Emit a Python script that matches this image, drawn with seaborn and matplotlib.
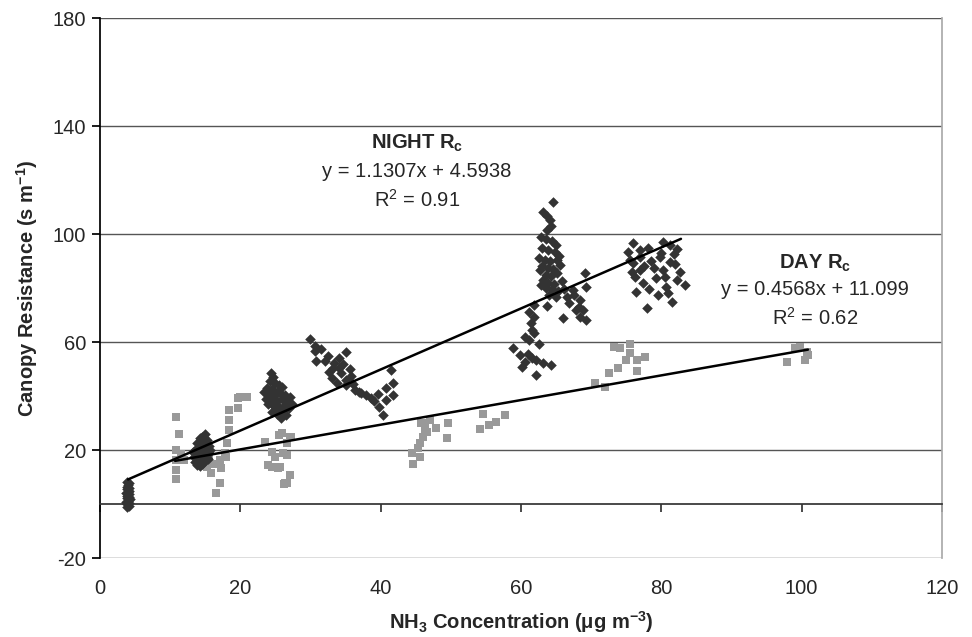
import numpy as np
import pandas as pd
import seaborn as sns
import matplotlib
matplotlib.use("Agg")
import matplotlib.pyplot as plt

# night canopy resistance (dark diamonds)
night_x = [3.8, 4.1, 3.9, 4.2, 3.7, 4.0, 4.3, 3.8, 4.1, 3.9, 4.2, 3.7, 4.0, 4.2, 3.8, 4.1, 3.9, 4.0, 4.2, 3.9,
           13.5, 13.8, 14.2, 14.6, 15.0, 15.4, 13.4, 13.9, 14.4, 14.9, 15.5, 13.6, 14.1, 14.6, 15.1, 15.6, 13.8,
           14.3, 14.8, 15.3, 14.5, 14.9, 14.2, 13.3, 15.7, 14.0, 14.7, 15.2,
           24.4, 24.6, 24.2, 25.0, 25.5, 23.8, 24.5, 25.3, 26.0, 23.4, 24.1, 24.8, 25.6, 26.4, 27.1, 23.6, 24.4,
           25.2, 26.0, 26.8, 23.9, 24.7, 25.5, 26.3, 24.9, 25.8, 26.1, 26.9, 25.2, 26.5, 24.5, 27.3, 25.8,
           29.9, 30.6, 30.6, 31.5, 32.5, 30.8, 32.0, 33.4, 34.0, 35.1, 32.7, 33.0, 34.4, 35.1, 35.6, 35.1, 34.0,
           33.8, 36.3, 36.9, 37.9, 38.6, 39.1, 39.8, 40.3, 39.6, 40.7, 41.8, 41.8, 40.7, 41.5, 35.8, 34.6, 33.2,
           36.0, 37.2,
           64.5, 63.2, 63.7, 64.1, 63.7, 64.3, 62.8, 63.5, 64.4, 65.0, 63.0, 63.9, 64.8, 65.4, 62.6, 63.4, 64.2,
           65.2, 63.0, 63.8, 64.6, 65.5, 62.7, 63.5, 64.3, 65.1, 63.1, 63.9, 64.7, 65.8, 63.6, 64.4, 65.3, 62.9,
           64.0, 65.0, 69.1, 69.3, 67.4, 66.5, 68.4, 68.2, 68.9, 68.4, 69.3, 66.0, 67.5, 66.8, 67.8, 66.2, 63.7,
           61.9, 61.2, 61.9, 61.4, 61.6, 61.9, 60.6, 61.2, 62.6, 58.9, 59.8, 61.0, 61.5, 60.5, 62.2, 63.1, 60.1,
           64.3, 62.2,
           76.0, 75.3, 76.9, 78.1, 80.2, 81.2, 82.2, 76.0, 76.9, 76.2, 77.4, 76.4, 77.9, 79.3, 80.3, 81.2, 80.7,
           82.2, 83.4, 81.5, 79.8, 82.0, 75.6, 77.5, 78.5, 79.0, 80.0, 81.8, 82.6, 78.2, 79.5, 80.5, 77.0, 75.8,
           81.0]
night_y = [-1.2, -0.8, 0.0, 0.4, 0.9, 1.3, 1.8, 2.2, 2.7, 3.1, 3.6, 4.0, 4.5, 5.0, 5.4, 5.9, 6.4, 7.0, 7.6, 8.1,
           15.5, 14.5, 14.0, 15.0, 15.8, 16.5, 17.5, 18.0, 17.0, 18.5, 18.8, 20.0, 20.5, 19.5, 21.0, 21.5, 22.5,
           23.0, 22.0, 23.8, 25.0, 26.0, 24.5, 19.2, 20.0, 16.2, 21.0, 17.2,
           48.4, 47.0, 45.5, 45.0, 44.0, 43.0, 42.5, 42.0, 43.5, 41.6, 40.5, 40.0, 41.0, 40.5, 39.7, 39.0, 38.5,
           38.0, 38.8, 38.0, 37.0, 36.5, 36.0, 36.8, 35.9, 34.5, 34.8, 35.5, 33.5, 33.0, 34.0, 37.0, 32.0,
           61.0, 58.5, 56.8, 57.5, 55.0, 53.1, 53.0, 52.2, 54.0, 56.4, 49.0, 46.6, 48.4, 46.0, 50.0, 44.0, 50.5,
           45.0, 42.2, 41.6, 40.4, 39.1, 38.0, 36.0, 33.0, 40.9, 43.0, 44.7, 40.4, 38.4, 49.6, 47.5, 52.0, 50.5,
           44.5, 41.0,
           111.9, 108.3, 106.5, 105.2, 101.5, 103.0, 99.0, 98.0, 97.5, 96.0, 95.0, 94.0, 93.5, 92.0, 91.0, 90.5,
           90.0, 90.4, 88.0, 87.5, 87.0, 88.5, 86.7, 85.0, 84.5, 85.5, 83.0, 82.0, 81.5, 82.5, 80.0, 79.5, 79.0,
           81.0, 77.5, 76.5, 85.4, 80.5, 79.3, 76.8, 75.5, 73.0, 71.9, 69.4, 68.1, 68.8, 77.5, 74.5, 72.0, 79.5,
           73.3, 73.7, 71.3, 69.4, 67.0, 64.4, 63.2, 62.0, 60.7, 59.3, 57.7, 55.2, 55.6, 54.0, 52.7, 53.3, 52.3,
           50.9, 51.6, 47.8,
           96.8, 93.5, 94.1, 94.8, 97.2, 95.9, 94.6, 89.1, 86.7, 84.2, 81.8, 78.6, 72.5, 83.6, 86.7, 89.8, 80.5,
           83.0, 81.1, 74.9, 91.6, 89.0, 90.5, 88.0, 90.0, 87.5, 93.0, 92.5, 86.0, 79.5, 77.5, 84.0, 91.5, 86.0,
           78.0]

# day canopy resistance (grey squares)
day_x = [10.9, 11.3, 10.8, 10.8, 10.8, 10.9, 11.9, 11.5,
         15.2, 15.6, 15.8, 17.1, 17.3, 17.1, 16.5, 17.8, 18.1, 18.4, 18.4, 18.4, 19.7, 19.7, 20.9, 20.0, 16.2, 18.0,
         23.5, 24.5, 24.9, 24.5, 25.6, 25.9, 27.1, 26.7, 26.7, 27.1, 26.7, 26.2, 26.8, 24.0, 25.4, 25.5, 27.2,
         26.1, 26.4,
         44.4, 45.3, 44.6, 45.6, 45.6, 46.1, 46.3, 46.3, 45.8, 46.6, 47.9, 49.6, 49.4, 47.0,
         54.1, 55.4, 56.5, 57.7, 54.6,
         70.5, 72.0, 72.6, 73.8, 75.0, 73.2, 74.1, 75.5, 75.5, 76.5, 77.7, 76.6,
         99.0, 100.7, 97.9, 100.5, 100.9, 99.7]
day_y = [32.1, 25.9, 20.0, 16.3, 12.6, 9.2, 16.3, 18.5,
         13.8, 16.3, 11.4, 16.3, 13.3, 7.8, 4.2, 18.8, 22.5, 27.4, 31.1, 34.8, 35.4, 39.3, 39.7, 39.7, 15.0, 17.5,
         23.1, 19.4, 17.5, 13.8, 13.8, 26.2, 24.9, 22.5, 18.1, 10.7, 7.7, 7.5, 36.0, 14.4, 13.3, 25.6, 25.0,
         18.8, 7.7,
         19.0, 20.6, 14.8, 17.3, 22.5, 24.9, 27.4, 30.0, 29.9, 26.8, 28.1, 30.0, 24.4, 31.0,
         27.8, 29.3, 30.5, 33.0, 33.3,
         44.7, 43.3, 48.4, 50.3, 53.3, 58.3, 57.6, 59.3, 55.9, 53.3, 54.6, 49.3,
         57.8, 56.4, 52.7, 53.3, 55.2, 58.0]

# fitted lines as printed on the chart: slope, intercept, x range
night_fit = (1.1307, 4.5938, [4.0, 82.8])
day_fit = (0.4568, 11.099, [10.7, 100.9])

x_ticks = [0, 20, 40, 60, 80, 100, 120]
y_ticks = [-20, 20, 60, 100, 140, 180]

night = pd.DataFrame({"nh3": night_x, "rc": night_y})
day = pd.DataFrame({"nh3": day_x, "rc": day_y})

sns.set_theme(style="white")
plt.rcParams["font.family"] = ["Liberation Sans", "DejaVu Sans"]
plt.rcParams["axes.unicode_minus"] = False
FS = 14.5

fig = plt.figure(figsize=(9.72, 6.37), dpi=100)
ax = fig.add_axes([0.1029, 0.124, 0.8662, 0.8477])

sns.scatterplot(data=day, x="nh3", y="rc", marker="s", s=30, color="#999999", linewidth=0, ax=ax, zorder=3)
sns.scatterplot(data=night, x="nh3", y="rc", marker="D", s=29, color="#333333", linewidth=0, ax=ax, zorder=4)

for slope, icpt, xr in (night_fit, day_fit):
    xs = np.array(xr)
    ax.plot(xs, slope * xs + icpt, color="black", lw=1.8, zorder=5)

ax.set_xlim(0, 120)
ax.set_ylim(-20, 180)
ax.set_xticks(x_ticks)
ax.set_yticks(y_ticks)
ax.yaxis.grid(True, color="#555555", lw=1)
ax.xaxis.grid(False)
ax.set_axisbelow(True)

ax.spines["top"].set_visible(False)
ax.spines["right"].set_color("#aaaaaa")
ax.spines["left"].set_color("black")
ax.spines["bottom"].set_position(("data", 0))
ax.spines["bottom"].set_color("#333333")

ax.tick_params(axis="y", direction="out", length=6, color="black", labelsize=FS, pad=4, left=True)
ax.tick_params(axis="x", direction="out", length=6, color="#333333", labelsize=FS, pad=48, bottom=True)

ax.set_xlabel("NH$_\\mathregular{3}$ Concentration (μg m$^\\mathregular{-3}$)", fontsize=FS, fontweight="bold", labelpad=8)
ax.set_ylabel("Canopy Resistance (s m$^\\mathregular{-1}$)", fontsize=FS, fontweight="bold", labelpad=9)

ax.text(45.2, 133.7, "NIGHT R$_\\mathregular{c}$", ha="center", va="center", fontsize=FS, fontweight="bold")
ax.text(45.2, 123.3, "y = 1.1307x + 4.5938", ha="center", va="center", fontsize=FS)
ax.text(45.2, 112.6, "R$^\\mathregular{2}$ = 0.91", ha="center", va="center", fontsize=FS)
ax.text(101.9, 89.3, "DAY R$_\\mathregular{c}$", ha="center", va="center", fontsize=FS, fontweight="bold")
ax.text(101.9, 79.3, "y = 0.4568x + 11.099", ha="center", va="center", fontsize=FS)
ax.text(101.9, 68.9, "R$^\\mathregular{2}$ = 0.62", ha="center", va="center", fontsize=FS)

fig.savefig("out.png", dpi=100)
